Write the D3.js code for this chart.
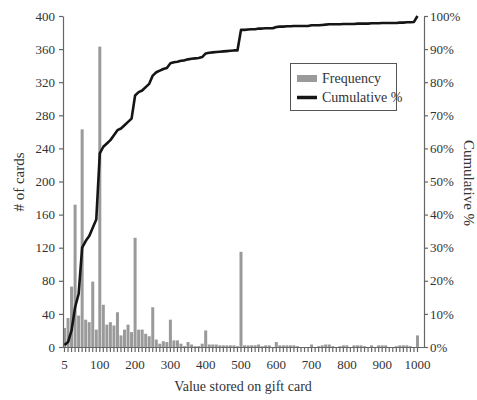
<!DOCTYPE html>
<html>
<head>
<meta charset="utf-8">
<script src="https://cdn.jsdelivr.net/npm/d3@7"></script>
<style>
  body { margin: 0; background: #fff; }
  svg { display: block; }
  text { font-family: "Times New Roman", "Liberation Serif", Tinos, serif; fill: #333; }
</style>
</head>
<body>
<div id="chart"></div>
<script>
// category = value stored on card ($)
const categories = [5];
for (let v = 10; v <= 1000; v += 10) categories.push(v);

const xLabels = [5, 100, 200, 300, 400, 500, 600, 700, 800, 900, 1000];

// number of cards in each bin
const frequency = [
  23, 35, 73, 172, 38, 263, 33, 30, 79, 21,
  363, 51, 27, 30, 26, 42, 14, 21, 27, 18,
  132, 21, 21, 16, 13, 48, 9, 4, 7, 6,
  33, 8, 8, 4, 1, 6, 3, 1, 1, 4,
  20, 3, 3, 3, 2, 2, 2, 2, 2, 1,
  115, 2, 2, 2, 2, 3, 1, 2, 2, 0,
  6, 2, 2, 2, 2, 2, 1, 0, 0, 0,
  3, 0, 1, 2, 3, 3, 1, 0, 1, 2,
  2, 0, 2, 2, 2, 1, 0, 2, 0, 2,
  2, 2, 0, 0, 1, 2, 2, 2, 1, 0,
  14
];

// cumulative %
const cumulative = [
  0.6, 1.5, 5, 12, 16, 30, 32, 33.5, 36, 38.5,
  58.5, 60.5, 61.5, 62.5, 64, 65.5, 66, 67, 68, 69,
  76, 77, 77.5, 78.5, 79.5, 82, 83, 83.5, 84, 84.3,
  85.7, 86, 86.2, 86.5, 86.6, 86.9, 87.1, 87.2, 87.3, 87.6,
  88.7, 88.9, 89, 89.1, 89.2, 89.3, 89.4, 89.5, 89.6, 89.6,
  95.8, 95.8, 95.9, 96, 96, 96.2, 96.2, 96.3, 96.3, 96.3,
  96.7, 96.8, 96.8, 96.9, 96.9, 97, 97, 97, 97, 97,
  97.2, 97.2, 97.2, 97.3, 97.4, 97.5, 97.5, 97.5, 97.5, 97.6,
  97.6, 97.6, 97.6, 97.7, 97.7, 97.7, 97.7, 97.8, 97.8, 97.8,
  97.9, 97.9, 97.9, 97.9, 97.9, 98, 98, 98.1, 98.1, 98.2,
  100
];

const leftTicks = d3.range(0, 401, 40);
const rightTicks = d3.range(0, 101, 10);

const size = { width: 477, height: 400 };
const plot = { left: 63, right: 424, top: 16, bottom: 347 };
const serif = "'Times New Roman', 'Liberation Serif', Tinos, serif";

const svg = d3.select("#chart").append("svg")
  .attr("width", size.width)
  .attr("height", size.height);

//------------------------------------------------------//
// scales
//------------------------------------------------------//
const x = d3.scaleBand()
  .domain(categories)
  .range([plot.left, plot.right])
  .paddingInner(0.15)
  .paddingOuter(0.71)
  .align(0);

const y = d3.scaleLinear().domain([0, 400]).range([plot.bottom, plot.top]);
const yPct = d3.scaleLinear().domain([0, 100]).range([plot.bottom, plot.top]);

//------------------------------------------------------//
// bars
//------------------------------------------------------//
svg.append("g")
  .selectAll("rect")
  .data(frequency)
  .join("rect")
  .attr("x", (d, i) => x(categories[i]))
  .attr("width", x.bandwidth())
  .attr("y", d => y(d))
  .attr("height", d => y(0) - y(d))
  .attr("fill", "#9a9a9a");

//------------------------------------------------------//
// axes
//------------------------------------------------------//
const axisColor = "#666";

const gx = svg.append("g")
  .attr("transform", `translate(0,${plot.bottom})`)
  .call(d3.axisBottom(x)
    .tickSize(5)
    .tickSizeOuter(0)
    .tickFormat(d => xLabels.includes(d) ? d : ""));
gx.select(".domain").attr("d", `M${plot.left},0.5H${plot.right}`);

const gy = svg.append("g")
  .attr("transform", `translate(${plot.left},0)`)
  .call(d3.axisLeft(y).tickValues(leftTicks).tickSize(4).tickSizeOuter(0).tickPadding(4));

const gy2 = svg.append("g")
  .attr("transform", `translate(${plot.right},0)`)
  .call(d3.axisRight(yPct).tickValues(rightTicks).tickSize(4).tickSizeOuter(0).tickPadding(2)
    .tickFormat(d => d + "%"));

[gx, gy, gy2].forEach(g => {
  g.attr("font-family", null);
  g.selectAll(".domain, line").attr("stroke", axisColor).attr("stroke-width", 1.2);
  g.selectAll("text")
    .attr("fill", "#333")
    .style("font-family", serif)
    .style("font-size", "13px");
});
gx.selectAll("text").attr("dy", "1.05em");

//------------------------------------------------------//
// cumulative line
//------------------------------------------------------//
const line = d3.line()
  .x((d, i) => x(categories[i]) + x.bandwidth() / 2)
  .y(d => yPct(d));

svg.append("path")
  .datum(cumulative)
  .attr("d", line)
  .attr("fill", "none")
  .attr("stroke", "#151515")
  .attr("stroke-width", 2.6)
  .attr("stroke-linejoin", "round");

//------------------------------------------------------//
// titles
//------------------------------------------------------//
svg.append("text")
  .attr("transform", "translate(24,182) rotate(-90)")
  .attr("text-anchor", "middle")
  .style("font-size", "15px")
  .text("# of cards");

svg.append("text")
  .attr("transform", "translate(464,183) rotate(90)")
  .attr("text-anchor", "middle")
  .style("font-size", "15px")
  .text("Cumulative %");

svg.append("text")
  .attr("x", 243)
  .attr("y", 391)
  .attr("text-anchor", "middle")
  .style("font-size", "14px")
  .text("Value stored on gift card");

//------------------------------------------------------//
// legend
//------------------------------------------------------//
const legend = svg.append("g");
legend.append("rect")
  .attr("x", 290.5).attr("y", 63.5)
  .attr("width", 106).attr("height", 47)
  .attr("fill", "#fff")
  .attr("stroke", "#555")
  .attr("stroke-width", 1);

legend.append("rect")
  .attr("x", 297).attr("y", 75)
  .attr("width", 20).attr("height", 7)
  .attr("fill", "#9a9a9a");
legend.append("text")
  .attr("x", 322).attr("y", 83)
  .style("font-size", "14px")
  .text("Frequency");

legend.append("line")
  .attr("x1", 297).attr("x2", 317)
  .attr("y1", 97.5).attr("y2", 97.5)
  .attr("stroke", "#151515")
  .attr("stroke-width", 3.5);
legend.append("text")
  .attr("x", 322).attr("y", 102)
  .style("font-size", "14px")
  .text("Cumulative %");
</script>
</body>
</html>
